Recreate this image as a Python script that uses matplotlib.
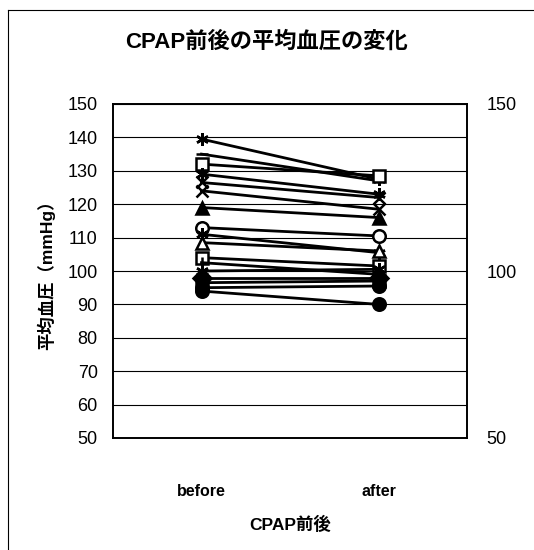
"""
CPAP前後の平均血圧の変化 - before/after line chart
"""
import matplotlib
matplotlib.use('Agg')
import matplotlib.pyplot as plt
from matplotlib.lines import Line2D

plt.rcParams['font.family'] = ['Liberation Sans', 'Noto Sans CJK JP']

# category labels and per-patient mean blood pressure (mmHg)
categories = ['before', 'after']
before = [139.5, 135, 132, 129, 126.5, 124, 119, 113, 111, 108.5,
          104, 102.5, 100, 98, 96.5, 95, 94]
after = [127.5, 127, 128.5, 123, 122, 118.5, 116, 110.5, 105.5, 106,
         101.5, 99, 100.5, 98, 97, 95.5, 90]

left_ticks = list(range(50, 151, 10))
right_ticks = [50, 100, 150]

# excel-like marker cycle as it looks after a b/w scan
ASTERISK = (6, 2, 0)
marker_cycle = [
    (ASTERISK, 'black'), ('_', 'black'), ('s', 'white'), (ASTERISK, 'black'),
    ('x', 'black'), ('x', 'black'), ('^', 'black'), ('o', 'white'),
    (ASTERISK, 'black'), ('^', 'white'), ('s', 'white'), ('|', 'black'),
    (ASTERISK, 'black'), ('D', 'black'), ('s', 'black'), ('o', 'black'),
    ('o', 'black'),
]

fig = plt.figure(figsize=(5.34, 5.5), dpi=100)
ax = fig.add_axes([113 / 534, 1 - 438 / 550, 354 / 534, 334 / 550])

x = range(len(categories))
for i, (b, a) in enumerate(zip(before, after)):
    m, fc = marker_cycle[i % len(marker_cycle)]
    ax.plot(x, [b, a], color='black', linewidth=2.0, marker=m, markersize=9,
            markerfacecolor=fc, markeredgecolor='black', markeredgewidth=1.8,
            zorder=3)

ax.set_xlim(-0.5, 1.5)
ax.set_ylim(50, 150)
ax.set_yticks(left_ticks)
ax.set_xticks(list(x))
ax.set_xticklabels(categories, fontsize=11.5, fontweight='bold')
ax.tick_params(axis='x', length=0, pad=33)
ax.tick_params(axis='y', length=0, pad=11, labelsize=13)
ax.yaxis.grid(True, color='black', linewidth=0.8)
ax.set_axisbelow(True)
for s in ax.spines.values():
    s.set_linewidth(1.4)

ax.set_xlabel('CPAP前後', fontsize=12.5, fontweight='bold', labelpad=12)
ax.set_ylabel('平均血圧（mmHg）', fontsize=12.5, fontweight='bold', labelpad=9)

ax2 = ax.twinx()
ax2.set_ylim(50, 150)
ax2.set_yticks(right_ticks)
ax2.tick_params(axis='y', length=0, pad=14, labelsize=13)
for s in ax2.spines.values():
    s.set_visible(False)

fig.text(0.5, 1 - 42 / 550, 'CPAP前後の平均血圧の変化', ha='center', va='center',
         fontsize=16, fontweight='bold')

# chart area border (only left/top survive the crop)
fig.add_artist(Line2D([8 / 534, 8 / 534], [0, 1 - 10 / 550], color='black',
                      linewidth=0.8, transform=fig.transFigure))
fig.add_artist(Line2D([8 / 534, 1], [1 - 10 / 550, 1 - 10 / 550], color='black',
                      linewidth=0.8, transform=fig.transFigure))

fig.savefig('out.png', dpi=100, facecolor='white')
